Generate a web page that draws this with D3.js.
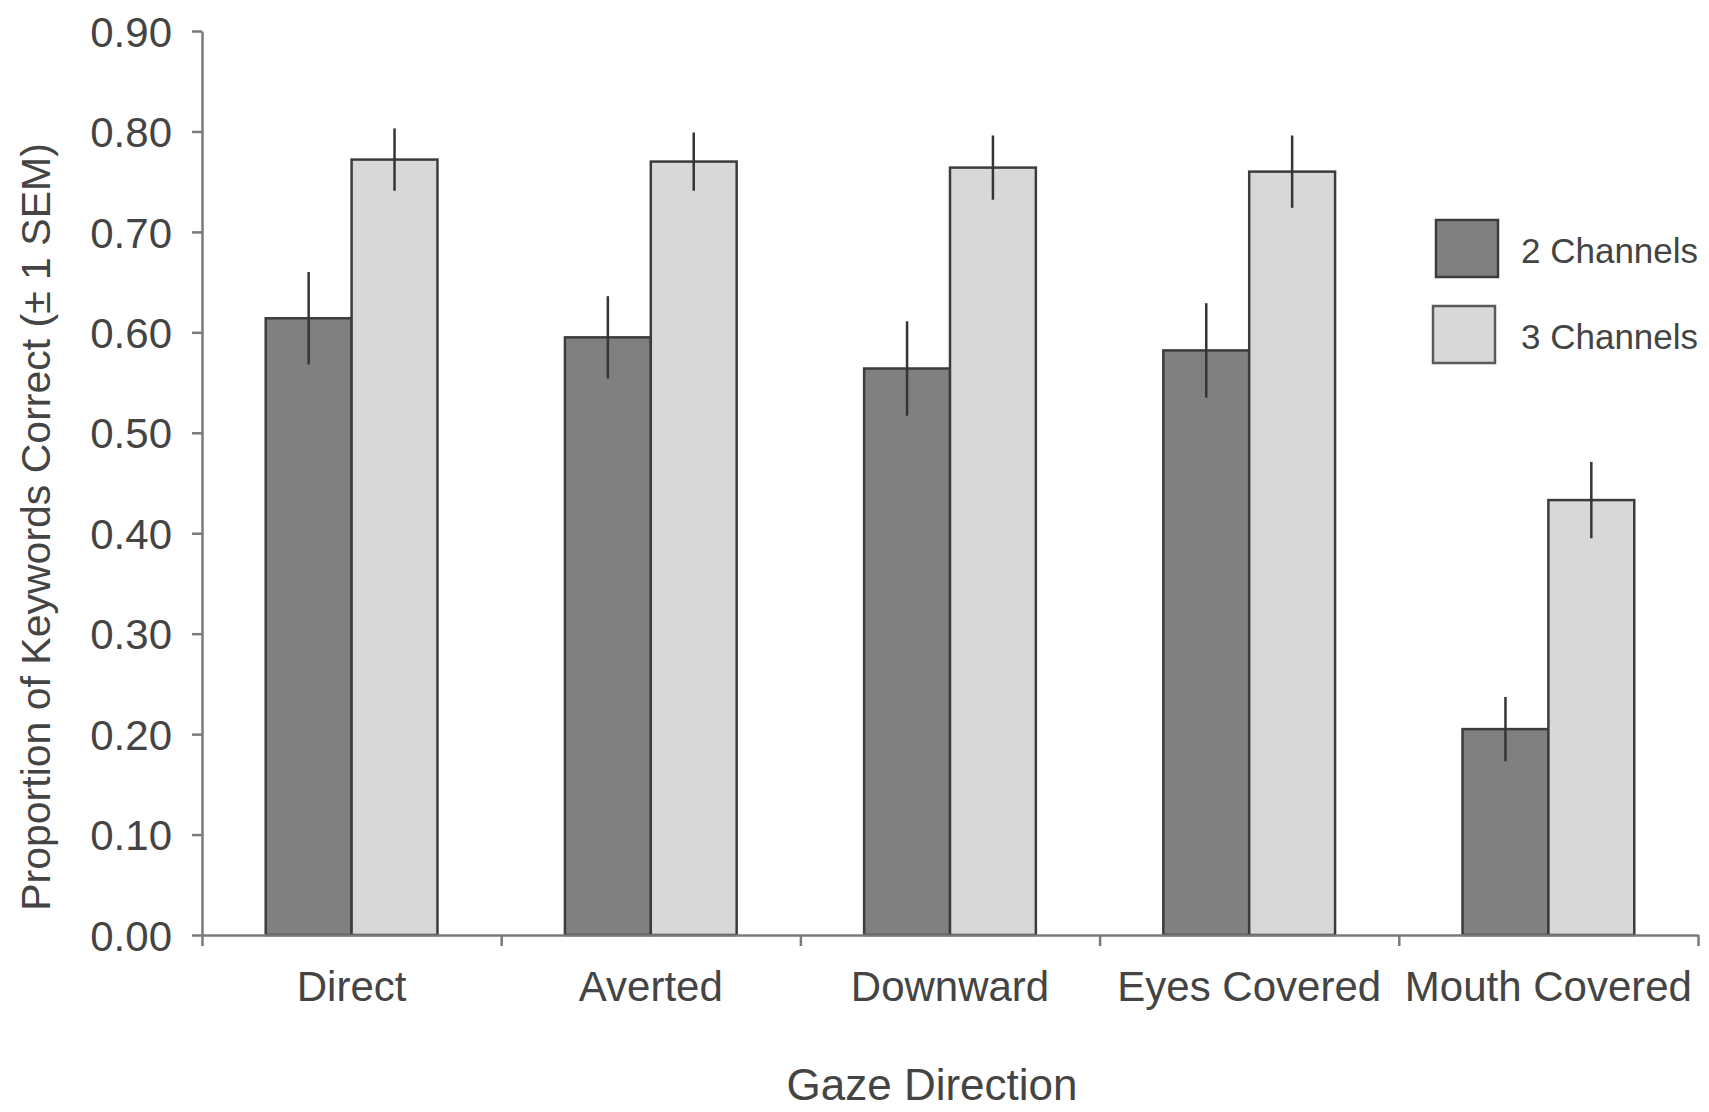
<!DOCTYPE html>
<html>
<head>
<meta charset="utf-8">
<script src="https://cdn.jsdelivr.net/npm/d3@7"></script>
<style>
  body { margin: 0; background: #fff; }
  svg { display: block; }
  text { font-family: "Liberation Sans", Helvetica, Arial, sans-serif; fill: #444; }
</style>
</head>
<body>
<div id="chart"></div>
<script>
// values
const categories = ["Direct", "Averted", "Downward", "Eyes Covered", "Mouth Covered"];
const series = ["2 Channels", "3 Channels"];
const twoChannels = [0.614, 0.595, 0.564, 0.582, 0.205];
const threeChannels = [0.772, 0.770, 0.764, 0.760, 0.433];
const twoSem = [0.046, 0.041, 0.047, 0.047, 0.032];
const threeSem = [0.031, 0.029, 0.032, 0.036, 0.038];
const yTicks = [0, 0.1, 0.2, 0.3, 0.4, 0.5, 0.6, 0.7, 0.8, 0.9];

const width = 1709;
const height = 1112;
const margin = { top: 31, right: 11, bottom: 177, left: 202 };

const colors = { "2 Channels": "#808080", "3 Channels": "#d8d8d8" };

const rows = categories.map((c, i) => ({
  cat: c,
  vals: [
    { s: series[0], v: twoChannels[i], e: twoSem[i] },
    { s: series[1], v: threeChannels[i], e: threeSem[i] }
  ]
}));

const svg = d3
  .select("#chart")
  .append("svg")
  .attr("width", width)
  .attr("height", height);

const x0 = d3
  .scaleBand()
  .domain(categories)
  .range([margin.left, width - margin.right])
  .paddingInner(0)
  .paddingOuter(0);

const x1 = d3
  .scaleBand()
  .domain(series)
  .range([x0.bandwidth() * 0.213, x0.bandwidth() * 0.787]);

const y = d3
  .scaleLinear()
  .domain([0, 0.9])
  .range([height - margin.bottom, margin.top]);

// bars
const group = svg
  .append("g")
  .selectAll("g")
  .data(rows)
  .join("g")
  .attr("transform", (d) => `translate(${x0(d.cat)},0)`);

group
  .selectAll("rect")
  .data((d) => d.vals)
  .join("rect")
  .attr("x", (d) => x1(d.s))
  .attr("y", (d) => y(d.v))
  .attr("width", x1.bandwidth())
  .attr("height", (d) => y(0) - y(d.v))
  .attr("fill", (d) => colors[d.s])
  .attr("stroke", "#3c3c3c")
  .attr("stroke-width", 2.5);

// error bars (no caps)
group
  .selectAll("line.err")
  .data((d) => d.vals)
  .join("line")
  .attr("class", "err")
  .attr("x1", (d) => x1(d.s) + x1.bandwidth() / 2)
  .attr("x2", (d) => x1(d.s) + x1.bandwidth() / 2)
  .attr("y1", (d) => y(d.v + d.e))
  .attr("y2", (d) => y(d.v - d.e))
  .attr("stroke", "#353535")
  .attr("stroke-width", 2.5);

// y axis
const yAxis = svg
  .append("g")
  .attr("transform", `translate(${margin.left},0)`)
  .call(
    d3
      .axisLeft(y)
      .tickValues(yTicks)
      .tickFormat(d3.format(".2f"))
      .tickSize(10)
      .tickSizeOuter(0)
      .tickPadding(20)
  );
yAxis.selectAll("text").attr("font-size", 42).attr("dy", "0.36em");

// x axis: boundary ticks, then the labels
const xb = d3
  .scaleLinear()
  .domain([0, categories.length])
  .range([margin.left, width - margin.right]);

svg
  .append("g")
  .attr("transform", `translate(0,${y(0)})`)
  .call(
    d3
      .axisBottom(xb)
      .tickValues(d3.range(categories.length + 1))
      .tickFormat("")
      .tickSize(11)
      .tickSizeOuter(0)
  );

const xAxis = svg
  .append("g")
  .attr("transform", `translate(0,${y(0)})`)
  .call(d3.axisBottom(x0).tickSize(0).tickPadding(36));
xAxis.select(".domain").remove();
xAxis.selectAll("text").attr("font-size", 42);

svg
  .selectAll(".domain, .tick line")
  .attr("stroke", "#7a7a7a")
  .attr("stroke-width", 2.5);

// axis titles
svg
  .append("text")
  .attr("x", 932)
  .attr("y", 1100)
  .attr("text-anchor", "middle")
  .attr("font-size", 44)
  .text("Gaze Direction");

svg
  .append("text")
  .attr("transform", `translate(50,${(y(0) + y(0.9)) / 2 + 44}) rotate(-90)`)
  .attr("text-anchor", "middle")
  .attr("font-size", 41)
  .text("Proportion of Keywords Correct (± 1 SEM)");

// legend
const legend = svg
  .append("g")
  .selectAll("g")
  .data(series)
  .join("g")
  .attr("transform", (d, i) => `translate(${1436 - i * 3},${220 + i * 86})`);

legend
  .append("rect")
  .attr("width", 62)
  .attr("height", 57)
  .attr("fill", (d) => colors[d])
  .attr("stroke", (d, i) => (i === 0 ? "#3c3c3c" : "#5a5a5a"))
  .attr("stroke-width", 2.5);

legend
  .append("text")
  .attr("x", (d, i) => 85 + i * 3)
  .attr("y", 30)
  .attr("dy", "0.36em")
  .attr("font-size", 35)
  .text((d) => d);
</script>
</body>
</html>
